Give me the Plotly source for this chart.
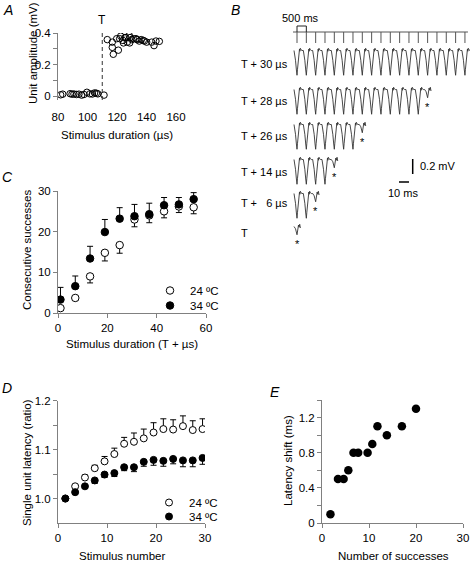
import plotly.graph_objects as go

# ---------------- data ----------------
# Panel A: unit amplitude vs stimulus duration
a_dur_below = [81.8, 83.2, 88.2, 89.5, 90.8, 92.5, 94.2, 96.0, 97.6, 99.6, 101.6, 103.3, 104.8, 106.0, 107.0, 111.2]
a_amp_below = [0.008, 0.012, 0.015, 0.012, 0.013, 0.010, 0.012, 0.006, 0.010, 0.024, 0.014, 0.013, 0.020, 0.018, 0.014, 0.006]
a_dur_above = [113.4, 116.8, 116.8, 117.5, 119.8, 120.9, 121.8, 122.5, 124.0, 124.4, 125.4, 126.0, 127.0, 128.3,
               128.6, 128.8, 130.0, 131.0, 132.9, 133.5, 135.1, 136.4, 137.8, 138.6, 140.1, 143.5, 145.1, 146.4, 148.7]
a_amp_above = [0.358, 0.342, 0.309, 0.265, 0.364, 0.291, 0.364, 0.380, 0.353, 0.337, 0.371, 0.371, 0.342, 0.384,
               0.337, 0.371, 0.358, 0.364, 0.364, 0.358, 0.349, 0.358, 0.353, 0.349, 0.342, 0.342, 0.320, 0.349, 0.347]
a_threshold = 110

# Panel B: example traces
b_row_labels = ["T + 30 µs", "T + 28 µs", "T + 26 µs", "T + 14 µs", "T + \u20076 µs", "T"]
b_successes = [19, 14, 7, 4, 2, 0]
b_failure = [False, True, True, True, True, True]
b_n_stimuli = 19
b_sweep_ms = 9.33
b_spike_t = [-3.0, -2.5, -1.5, -0.6, 0.0, 0.5, 1.3, 2.0, 2.5, 2.9, 3.3, 4.0, 5.0, 6.33]
b_spike_v = [-0.02, -0.05, -0.15, -0.28, -0.35, -0.27, -0.13, -0.03, 0.0, -0.03, 0.01, -0.01, -0.02, -0.02]
b_fail_t = [-3.0, -1.5, 0.0, 0.8, 1.5, 2.1, 2.7, 3.4]
b_fail_v = [-0.02, -0.05, -0.13, -0.04, 0.0, -0.03, 0.01, -0.04]
b_scale_mv = 0.2
b_scale_ms = 10

# Panel C: consecutive successes vs stimulus duration
c_dur = [1, 7, 13, 19, 25, 31, 37, 43, 49, 55]
c_24 = [1.2, 3.7, 9.0, 14.8, 16.7, 23.0, 24.0, 25.0, 26.2, 26.0]
c_24_err = [0.5, 0.6, 1.6, 2.0, 2.0, 1.8, 1.8, 1.6, 1.5, 1.6]
c_34 = [3.3, 6.6, 13.4, 19.9, 23.2, 23.8, 24.3, 26.5, 26.7, 28.0]
c_34_err = [3.0, 2.5, 3.0, 3.1, 2.7, 2.9, 2.7, 1.9, 1.7, 1.6]

# Panel D: single unit latency ratio vs stimulus number
d_stim = [1.5, 3.5, 5.5, 7.5, 9.5, 11.5, 13.5, 15.5, 17.5, 19.5, 21.5, 23.5, 25.5, 27.5, 29.5]
d_24 = [1.0, 1.025, 1.043, 1.062, 1.076, 1.091, 1.112, 1.116, 1.123, 1.135, 1.142, 1.141, 1.148, 1.140, 1.142]
d_24_err = [0, 0.003, 0.005, 0.006, 0.010, 0.012, 0.013, 0.018, 0.019, 0.020, 0.021, 0.020, 0.021, 0.019, 0.021]
d_34 = [1.0, 1.013, 1.025, 1.037, 1.049, 1.052, 1.064, 1.064, 1.075, 1.079, 1.077, 1.081, 1.078, 1.078, 1.083]
d_34_err = [0, 0.003, 0.004, 0.006, 0.006, 0.007, 0.007, 0.009, 0.009, 0.011, 0.011, 0.010, 0.013, 0.013, 0.013]

# Panel E: latency shift vs number of successes
e_succ = [1.8, 3.4, 4.6, 5.6, 6.7, 7.7, 9.7, 10.7, 11.8, 13.8, 17.0, 20.0]
e_shift = [0.1, 0.5, 0.5, 0.6, 0.8, 0.8, 0.8, 0.9, 1.1, 1.0, 1.1, 1.3]

# ---------------- layout helpers ----------------
W, H = 470, 562
FONT = "Liberation Sans, Arial, sans-serif"
FS = 11.5
AX = "#808080"


def px_x(p):
    return p / W


def px_y(p):
    return 1 - p / H


def axis_style(**kw):
    d = dict(showline=True, linecolor=AX, linewidth=1, ticks="outside", ticklen=4, tickcolor=AX,
             tickwidth=1, showgrid=False, zeroline=False, automargin=False,
             tickfont=dict(family=FONT, size=FS, color="black"))
    d.update(kw)
    return d


def text_ann(txt, x, y, size=FS, xanchor="center", yanchor="middle", angle=0):
    fig.add_annotation(x=px_x(x), y=px_y(y), xref="paper", yref="paper", text=txt, textangle=angle,
                       xanchor=xanchor, yanchor=yanchor, showarrow=False,
                       font=dict(family=FONT, size=size, color="black"))


def legend_box(x, y):
    return dict(x=px_x(x), y=px_y(y), xanchor="left", yanchor="top", bgcolor="rgba(0,0,0,0)",
                font=dict(family=FONT, size=FS, color="black"), itemwidth=30, borderwidth=0)


fig = go.Figure()

# ---- Panel A ----
fig.add_trace(go.Scatter(x=a_dur_below + a_dur_above, y=a_amp_below + a_amp_above, mode="markers",
                         marker=dict(symbol="circle-open", size=6.5, color="black", line=dict(width=1)),
                         xaxis="x", yaxis="y", showlegend=False))

# ---- Panel B ----
MV_PER_PX = b_scale_mv / 15.0
B_X0 = 235
row_top_px = [49, 88, 123, 158, 192, 225]
row_label_px = [64, 101, 136, 172, 203, 233]
first_tick_ms = 297 - B_X0


def by(p):
    return -p * MV_PER_PX


for i, lab in enumerate(b_row_labels):
    xs, ys = [], []
    base = by(row_top_px[i])
    for k in range(b_successes[i]):
        tk = first_tick_ms + k * b_sweep_ms
        xs += [tk + t for t in b_spike_t]
        ys += [base + v for v in b_spike_v]
    if b_failure[i]:
        tk = first_tick_ms + b_successes[i] * b_sweep_ms
        xs += [tk + t for t in b_fail_t]
        ys += [base + v for v in b_fail_v]
        fig.add_annotation(x=tk, y=by(row_top_px[i] + 19), xref="x2", yref="y2", text="*",
                           xanchor="center", yanchor="middle",
                           showarrow=False, font=dict(family=FONT, size=11, color="black"))
    fig.add_trace(go.Scatter(x=xs, y=ys, mode="lines", line=dict(color="#333", width=0.9),
                             xaxis="x2", yaxis="y2", showlegend=False, hoverinfo="skip"))

# stimulus train marker
ticks_ms = [first_tick_ms + k * b_sweep_ms for k in range(b_n_stimuli)]
sx = [first_tick_ms - 4, ticks_ms[-1] + 3, None]
sy = [by(32), by(32), None]
for t in ticks_ms:
    sx += [t, t, None]
    sy += [by(32), by(43), None]
fig.add_trace(go.Scatter(x=sx, y=sy, mode="lines", line=dict(color="#555", width=1),
                         xaxis="x2", yaxis="y2", showlegend=False, hoverinfo="skip"))
# 500 ms bracket
fig.add_trace(go.Scatter(x=[ticks_ms[0], ticks_ms[0], ticks_ms[1], ticks_ms[1]],
                         y=[by(32), by(26), by(26), by(32)], mode="lines",
                         line=dict(color="#222", width=1), xaxis="x2", yaxis="y2",
                         showlegend=False, hoverinfo="skip"))
# scale bars
sb_x = 412.7 - B_X0
sb_top = by(159)
fig.add_trace(go.Scatter(x=[sb_x, sb_x], y=[sb_top, sb_top - b_scale_mv], mode="lines",
                         line=dict(color="black", width=1.5), xaxis="x2", yaxis="y2",
                         showlegend=False, hoverinfo="skip"))
hb_x0 = 399 - B_X0
fig.add_trace(go.Scatter(x=[hb_x0, hb_x0 + b_scale_ms], y=[by(182), by(182)], mode="lines",
                         line=dict(color="black", width=1.5), xaxis="x2", yaxis="y2",
                         showlegend=False, hoverinfo="skip"))

# ---- Panel C ----
fig.add_trace(go.Scatter(x=c_dur, y=c_24, mode="markers", name="24 ºC", legend="legend",
                         marker=dict(symbol="circle", size=7.5, color="white", line=dict(color="black", width=1)),
                         error_y=dict(type="data", symmetric=False, array=[0] * len(c_24), arrayminus=c_24_err,
                                      color="black", thickness=1, width=3),
                         xaxis="x3", yaxis="y3"))
fig.add_trace(go.Scatter(x=c_dur, y=c_34, mode="markers", name="34 ºC", legend="legend2",
                         marker=dict(symbol="circle", size=7.5, color="black", line=dict(color="black", width=1)),
                         error_y=dict(type="data", symmetric=False, array=c_34_err, arrayminus=[0] * len(c_34),
                                      color="black", thickness=1, width=3),
                         xaxis="x3", yaxis="y3"))

# ---- Panel D ----
fig.add_trace(go.Scatter(x=d_stim, y=d_24, mode="markers", name="24 ºC", legend="legend3",
                         marker=dict(symbol="circle", size=7, color="white", line=dict(color="black", width=1)),
                         error_y=dict(type="data", symmetric=False, array=d_24_err, arrayminus=[0] * len(d_24),
                                      color="black", thickness=1, width=3),
                         xaxis="x4", yaxis="y4"))
fig.add_trace(go.Scatter(x=d_stim, y=d_34, mode="markers", name="34 ºC", legend="legend4",
                         marker=dict(symbol="circle", size=7, color="black", line=dict(color="black", width=1)),
                         error_y=dict(type="data", symmetric=False, array=[0] * len(d_34), arrayminus=d_34_err,
                                      color="black", thickness=1, width=3),
                         xaxis="x4", yaxis="y4"))

# ---- Panel E ----
fig.add_trace(go.Scatter(x=e_succ, y=e_shift, mode="markers",
                         marker=dict(symbol="circle", size=8.5, color="black"),
                         xaxis="x5", yaxis="y5", showlegend=False))

# ---------------- axes ----------------
fig.update_layout(
    template="none",
    width=W, height=H, margin=dict(l=0, r=0, t=0, b=0, autoexpand=False),
    paper_bgcolor="white", plot_bgcolor="rgba(0,0,0,0)",
    font=dict(family=FONT, size=FS, color="black"),
    xaxis=axis_style(domain=[px_x(58), px_x(176)], range=[80, 160], tickvals=[80, 100, 120, 140, 160],
                     anchor="y", showline=False, ticks="", ticklabelstandoff=8),
    yaxis=axis_style(domain=[px_y(100), px_y(33)], range=[-0.025, 0.4], tickvals=[0, 0.2, 0.4],
                     ticktext=["0", "0.2", "0.4"], anchor="x",
                     minor=dict(tickvals=[0.1, 0.3], ticks="outside", ticklen=4, tickcolor=AX)),
    xaxis2=dict(domain=[px_x(B_X0), 1], range=[0, W - B_X0], visible=False, anchor="y2", automargin=False),
    yaxis2=dict(domain=[px_y(250), 1], range=[by(250), 0], visible=False, anchor="x2", automargin=False),
    xaxis3=axis_style(domain=[px_x(58), px_x(206)], range=[0, 60], tickvals=[0, 20, 40, 60], anchor="y3"),
    yaxis3=axis_style(domain=[px_y(313), px_y(191)], range=[0, 30], tickvals=[0, 10, 20, 30], anchor="x3"),
    xaxis4=axis_style(domain=[px_x(58), px_x(205)], range=[0, 30], tickvals=[0, 10, 20, 30], anchor="y4"),
    yaxis4=axis_style(domain=[px_y(523), px_y(400.7)], range=[0.95, 1.2], tickvals=[1.0, 1.1, 1.2],
                      ticktext=["1.0", "1.1", "1.2"], anchor="x4",
                      minor=dict(tickvals=[1.05, 1.15], ticks="outside", ticklen=4, tickcolor=AX)),
    xaxis5=axis_style(domain=[px_x(322), px_x(463)], range=[0, 30], tickvals=[0, 10, 20, 30], anchor="y5"),
    yaxis5=axis_style(domain=[px_y(523), px_y(400)], range=[0, 1.4], tickvals=[0, 0.4, 0.8, 1.2],
                      ticktext=["0", "0.4", "0.8", "1.2"], anchor="x5",
                      minor=dict(tickvals=[0.2, 0.6, 1.0, 1.4], ticks="outside", ticklen=4, tickcolor=AX)),
    legend=legend_box(150, 276),
    legend2=legend_box(150, 291),
    legend3=legend_box(149, 488),
    legend4=legend_box(149, 502),
)

# threshold line in A
fig.add_shape(type="line", xref="x", yref="y", x0=a_threshold, x1=a_threshold, y0=-0.025, y1=0.433,
              line=dict(color="#333", width=1, dash="4px,3px"))
fig.add_annotation(x=a_threshold, y=px_y(20), xref="x", yref="paper", text="T", showarrow=False,
                   xanchor="center", yanchor="middle", font=dict(family=FONT, size=12, color="black"))

# panel B texts
for i, lab in enumerate(b_row_labels):
    text_ann(lab, 239, row_label_px[i], size=11, xanchor="left")
text_ann("500 ms", 300, 18, size=11)
text_ann("0.2 mV", 418, 166, size=11, xanchor="left")
text_ann("10 ms", 403, 193, size=11)

# axis titles
titles = [
    ("Stimulus duration (µs)", 117, 135, 0),
    ("Unit amplitude (mV)", 33, 53, -90),
    ("Stimulus duration (T + µs)", 132, 344, 0),
    ("Consecutive successes", 27, 250, -90),
    ("Stimulus number", 122, 556, 0),
    ("Single unit latency (ratio)", 27, 463, -90),
    ("Number of successes", 393, 556, 0),
    ("Latency shift (ms)", 288, 461, -90),
]
for txt, x, y, ang in titles:
    text_ann(txt, x, y, angle=ang)

# panel letters
for letter, x, y in [("A", 8, 10), ("B", 235, 10), ("C", 7, 177), ("D", 7, 388), ("E", 275, 392)]:
    text_ann("<i>%s</i>" % letter, x, y, size=14)

fig.write_html("out.html", config={"displayModeBar": False},
               post_script="document.body.style.margin='0';document.body.style.overflow='hidden';")
